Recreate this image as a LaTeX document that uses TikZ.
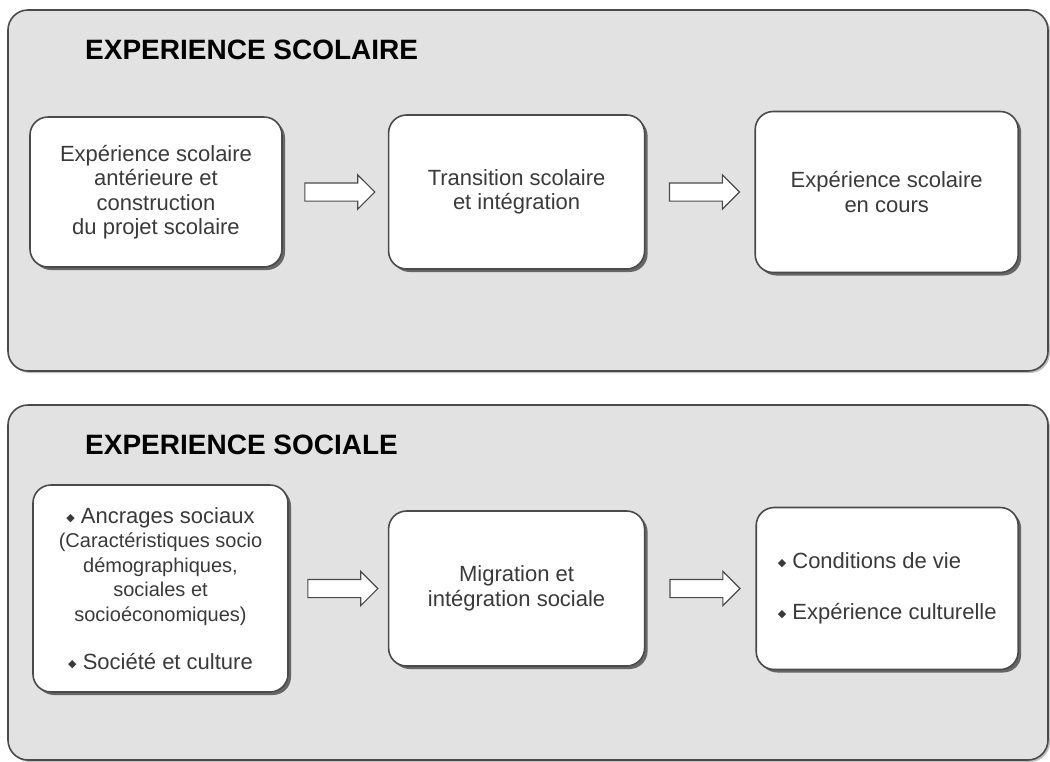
\documentclass[tikz,border=0pt]{standalone}
\usepackage{fontspec}
\setmainfont{Liberation Sans}
\newfontfamily\symbfont{DejaVu Sans}
\usetikzlibrary{positioning,shapes.arrows,shadows}

\definecolor{fondgris}{HTML}{E3E2E2}
\definecolor{traitgris}{HTML}{4A4A4A}
\definecolor{textegris}{HTML}{3A3A3A}

\newcommand{\puce}{{\symbfont\fontsize{11}{11}\selectfont\raisebox{2pt}{◆}}}
\newcommand{\petit}[1]{{\fontsize{20}{24}\selectfont #1}}

\begin{document}
\begin{tikzpicture}[x=1pt, y=-1pt, node distance=105pt,
		panneau/.style={draw=traitgris, line width=1.6pt, fill=fondgris, rounded corners=20pt,
			drop shadow={shadow xshift=2pt, shadow yshift=-2pt, fill=gray, opacity=0.5}},
		titre/.style={anchor=west, inner sep=0pt, font=\fontsize{28}{32}\selectfont\bfseries},
		boite/.style={draw=traitgris, line width=1.6pt, fill=white, rounded corners=18pt,
			align=center, text=textegris, font=\fontsize{22}{24.5}\selectfont,
			drop shadow={shadow xshift=3pt, shadow yshift=-3pt, fill=black!65, opacity=0.9}},
		fleche/.style={single arrow, draw=traitgris, line width=1.2pt, fill=white,
			minimum height=70pt, minimum width=33pt, inner xsep=0pt, inner ysep=8.5pt,
			single arrow head extend=8pt}]
	
	\useasboundingbox (0,0) rectangle (1050,761);
	
	% les deux cadres
	\draw[panneau] (8,10) rectangle (1048,371);
	\draw[panneau] (8,405) rectangle (1048,760);
	
	\node[titre] (t1) at (85,50) {EXPERIENCE SCOLAIRE};
	\node[titre] (t2) at (85,445) {EXPERIENCE SOCIALE};
	
	% experience scolaire
	\node[boite, minimum width=252pt, minimum height=150pt] (a1) at (156,192)
		{Expérience scolaire\\antérieure et\\construction\\du projet scolaire};
	\node[boite, minimum width=256pt, minimum height=154pt] (a2) [right=105pt of a1]
		{Transition scolaire\\et intégration};
	\node[boite, minimum width=263pt, minimum height=161pt] (a3) [right=109pt of a2]
		{Expérience scolaire\\en cours};
	
	% experience sociale
	\node[boite, minimum width=255pt, minimum height=207pt] (b1) at (160.5,588.5)
		{\puce~Ancrages sociaux\\
		\petit{(Caractéristiques socio}\\\petit{démographiques,}\\
		\petit{sociales et}\\\petit{socioéconomiques)}\\[24pt]
		\puce~Société et culture};
	\node[boite, minimum width=256pt, minimum height=155pt] (b2) [right=99pt of b1]
		{Migration et\\intégration sociale};
	\node[boite, minimum width=262pt, minimum height=162pt, align=left] (b3) [right=110pt of b2]
		{\puce~Conditions de vie\\[26pt]\puce~Expérience culturelle};
	
	\path (a1) -- node[fleche] {} (a2)
		(a2) -- node[fleche] {} (a3)
		(b1) -- node[fleche] {} (b2)
		(b2) -- node[fleche] {} (b3);
\end{tikzpicture}
\end{document}
